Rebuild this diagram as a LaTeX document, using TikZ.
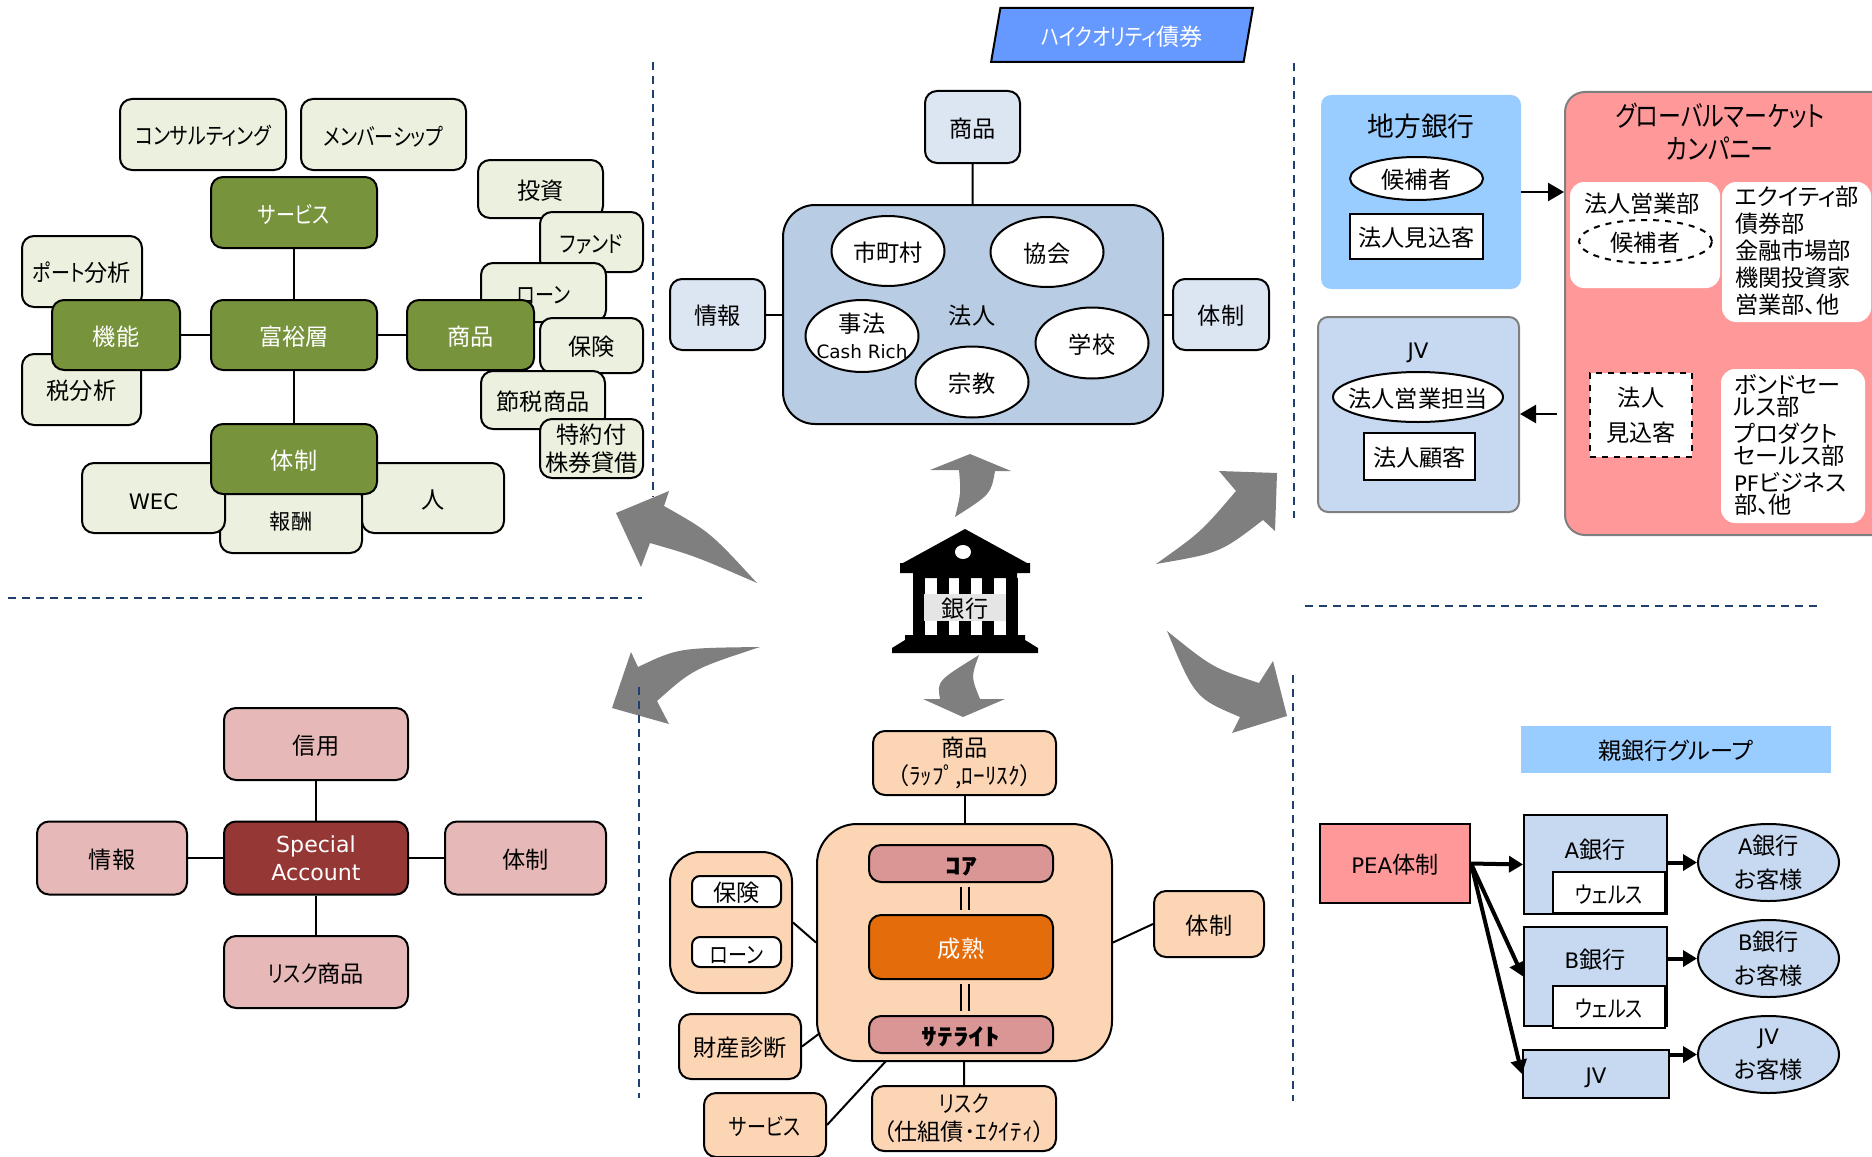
\documentclass[tikz,border=0pt]{standalone}
\usepackage{fontspec}
\setmainfont[RawFeature=+palt]{Noto Sans CJK JP}
\newfontfamily\lat[Scale=0.92]{DejaVu Sans}
\newfontfamily\kana[RawFeature=+palt,FakeStretch=0.82]{Noto Sans CJK JP}
\newfontfamily\heavy[FakeStretch=1.35]{Noto Sans CJK JP}
\usetikzlibrary{shapes.geometric,arrows.meta}
\definecolor{leaf}{HTML}{EBF1DE}
\definecolor{moss}{HTML}{77933C}
\definecolor{corpblue}{HTML}{B8CCE4}
\definecolor{paleblue}{HTML}{DCE6F2}
\definecolor{peach}{HTML}{FCD5B5}
\definecolor{rose}{HTML}{E6B9B8}
\definecolor{wine}{HTML}{953735}
\definecolor{dustyred}{HTML}{D99694}
\definecolor{pumpkin}{HTML}{E46C0A}
\definecolor{skyblue}{HTML}{99CCFF}
\definecolor{softblue}{HTML}{C6D9F1}
\definecolor{salmon}{HTML}{FF9999}
\definecolor{bondblue}{HTML}{6699FF}
\definecolor{arrowgray}{HTML}{7F7F7F}
\definecolor{navy}{HTML}{1F3F6F}
\newcommand{\basefont}{\fontsize{11.6}{14}\selectfont}
\begin{document}
\begin{tikzpicture}[x=.5pt,y=-.5pt,
    wh/.style 2 args={minimum width=#1*.5pt,minimum height=#2*.5pt},
    main node/.style={draw,rounded corners=6pt,line width=1pt,inner sep=0pt,align=center},
    leaf node/.style={main node,fill=leaf},
    moss node/.style={main node,fill=moss,text=white},
    pale node/.style={main node,fill=paleblue},
    peach node/.style={main node,fill=peach},
    rose node/.style={main node,fill=rose},
    oval node/.style={ellipse,draw,line width=1pt,fill=white,inner sep=-12pt,align=center},
    plain box/.style={rectangle,draw,line width=1pt,inner sep=0pt,align=center},
    white panel/.style={rounded corners=7pt,fill=white,inner sep=0pt,align=center},
    list panel/.style={white panel,align=left,inner xsep=6.5pt,execute at end node={\rule[-4.4pt]{0pt}{1pt}}},
    link/.style={line width=1pt},
    divider/.style={draw=navy,line width=1pt,dash pattern=on 4pt off 3pt},
    big arrow/.style={fill=arrowgray},
    thin arrow/.style={line width=1.2pt,-{Triangle[length=8pt,width=9pt]}},
    thick arrow/.style={line width=2pt,-{Triangle[length=7pt,width=8pt]}}]
    \tikzstyle{every node}=[font=\basefont,execute at begin node={\rule{0pt}{11.4pt}}]

    \useasboundingbox (0,0) rectangle (1872,1156);
    \clip (0,0) rectangle (1872,1156);

    \draw[divider] (653,62) -- (653,497);
    \draw[divider] (8,598) -- (642,598);
    \draw[divider] (1294,63) -- (1294,518);
    \draw[divider] (1305,606) -- (1817,606);
    \draw[divider] (1293,675) -- (1293,1101);

    \fill[big arrow] (669,491) -- (664,506) .. controls (710,532) .. (757,583) .. controls (695,556) .. (650,543) -- (641,567) -- (616,513) -- cycle;
    \fill[big arrow] (760,647) .. controls (678,648) .. (638,667) -- (631,652) -- (612,708) -- (669,724) -- (657,701) .. controls (693,669) .. cycle;
    \fill[big arrow] (970,454) -- (1011,471) -- (995,471) .. controls (991,494) .. (955,517) .. controls (961,493) .. (959,470) -- (930,470) -- cycle;
    \fill[big arrow] (1277,473) -- (1275,531) -- (1263,520) .. controls (1220,553) .. (1156,564) .. controls (1201,532) .. (1236,491) -- (1219,471) -- cycle;
    \fill[big arrow] (1167,631) .. controls (1213,668) .. (1259,683) -- (1273,661) -- (1287,716) -- (1232,733) -- (1240,717) .. controls (1195,698) .. cycle;
    \fill[big arrow] (979,655) .. controls (937,681) .. (940,699) -- (923,699) -- (963,717) -- (1005,699) -- (980,699) .. controls (971,677) .. cycle;

    \draw[divider] (639,687) -- (639,1098);

    \node[leaf node,wh={166}{71}] (consult) at (203,134.5) {\kana コンサルティング};
    \node[leaf node,wh={165}{71}] (member) at (383.5,134.5) {\kana メンバーシップ};
    \node[leaf node,wh={120}{71}] (port) at (82,271.5) {{\kana ポート}分析};
    \node[leaf node,wh={119}{71}] (tax) at (81.5,389.5) {税分析};
    \node[leaf node,wh={125}{58}] (invest) at (540.5,189) {投資};
    \node[leaf node,wh={103}{60}] (fund) at (591.5,242) {\kana ファンド};
    \node[leaf node,wh={125}{59}] (loan) at (543.5,292.5) {\kana ローン};
    \node[leaf node,wh={103}{55}] (insure) at (591.5,345.5) {保険};
    \node[leaf node,wh={124}{58}] (saving) at (543,400) {節税商品};
    \node[leaf node,wh={103}{59}] (lending) at (591.5,448.5) {特約付\\株券貸借};
    \node[leaf node,wh={142}{68},font=\fontsize{10.6}{14}\selectfont] (pay) at (291,519) {報酬};
    \node[leaf node,wh={143}{70}] (wec) at (153.5,498) {\lat WEC};
    \node[leaf node,wh={142}{70}] (person) at (433,498) {人};
    \node[moss node,wh={166}{71}] (service) at (294,212.5) {\kana サービス};
    \node[moss node,wh={166}{70}] (wealth) at (294,335) {富裕層};
    \node[moss node,wh={128}{70}] (function) at (116,335) {機能};
    \node[moss node,wh={127}{70}] (product) at (470.5,335) {商品};
    \node[moss node,wh={166}{70}] (system) at (294,459) {体制};

    \path[link] (wealth) edge (service)
                (wealth) edge (function)
                (wealth) edge (product)
                (wealth) edge (system);

    \node[trapezium,trapezium left angle=76,trapezium right angle=104,trapezium stretches=true,draw,line width=1pt,fill=bondblue,text=white,inner sep=0pt,wh={264}{54}] (bond) at (1122,35) {{\kana ハイクオリティ}債券};
    \node[main node,fill=corpblue,rounded corners=16pt,wh={380}{219}] (corp) at (973,314.5) {};
    \node (corplabel) at (972,314) {法人};
    \node[oval node,wh={113}{70}] (city) at (888,251) {市町村};
    \node[oval node,wh={113}{70}] (assoc) at (1047,252) {協会};
    \node[oval node,wh={113}{72}] (firm) at (862,336) {事法\\[-1pt]{\lat\fontsize{10}{13}\selectfont Cash Rich}};
    \node[oval node,wh={113}{71}] (school) at (1092,343) {学校};
    \node[oval node,wh={113}{71}] (religion) at (972,382) {宗教};
    \node[pale node,wh={95}{72}] (corpproduct) at (972.5,127) {商品};
    \node[pale node,wh={95}{71}] (corpinfo) at (717.5,314.5) {情報};
    \node[pale node,wh={96}{71}] (corpsystem) at (1221,314.5) {体制};

    \path[link] (corpproduct) edge (corp)
                (corpinfo) edge (corp)
                (corpsystem) edge (corp);

    \fill (965,529) -- (1027,563) -- (1030,563) -- (1030,573) -- (1017,573) -- (1017,578) -- (913,578) -- (913,573) -- (900,573) -- (900,563) -- (903,563) -- cycle;
    \fill[white] (963,552) ellipse [x radius=8,y radius=7];
    \foreach \colx in {913,937,959,982,1006}
      \fill (\colx,578) rectangle ++(11.5,58);
    \fill (905,635) -- (1025,635) -- (1025,640) -- (1038,648) -- (1038,653) -- (892,653) -- (892,648) -- (905,640) -- cycle;
    \node[fill=black!10,inner sep=0pt,wh={82}{27}] (bank) at (965,607) {銀行};

    \node[fill=skyblue,rounded corners=5pt,wh={200}{194}] (local) at (1421,192) {};
    \node[font=\fontsize{13.4}{16}\selectfont] (localname) at (1421,126) {地方銀行};
    \node[oval node,wh={133}{43}] (localcand) at (1416.5,178.5) {候補者};
    \node[plain box,fill=white,wh={133}{45}] (localpros) at (1416.5,236.5) {法人見込客};

    \node[draw=arrowgray,line width=1pt,fill=softblue,rounded corners=5pt,wh={201}{195}] (jvpanel) at (1418.5,414.5) {};
    \node (jvname) at (1418,349) {\lat JV};
    \node[oval node,wh={170}{50}] (jvsales) at (1418,397) {法人営業担当};
    \node[plain box,fill=white,wh={111}{47}] (jvclient) at (1419.5,456.5) {法人顧客};

    \node[draw=arrowgray,line width=1pt,fill=salmon,rounded corners=10pt,wh={340}{443}] (global) at (1735,313.5) {};
    \node[align=center,font=\kana\fontsize{14}{16.5}\selectfont] (globalname) at (1720,132) {グローバルマーケット\\カンパニー};
    \node[white panel,wh={150}{106}] (sales) at (1645,235) {};
    \node (salesname) at (1642,202) {法人営業部};
    \node[oval node,dashed,wh={133}{43}] (salescand) at (1645.5,241.5) {候補者};
    \node[list panel,text width=61.5pt,wh={149}{140},font=\fontsize{11.6}{13.5}\selectfont] (equity) at (1796.5,252) {エクイティ部\\債券部\\金融市場部\\機関投資家\\営業部、他};
    \node[plain box,dashed,fill=white,wh={102}{84},font=\fontsize{11.6}{17.5}\selectfont] (globalpros) at (1641,415) {法人\\見込客};
    \node[list panel,text width=59pt,wh={144}{154},font=\fontsize{11.6}{11}\selectfont] (bondsales) at (1793,446) {ボンドセー\\ルス部\\[2.5pt]プロダクト\\セールス部\\[2.5pt]{\lat PF}ビジネス\\部、他};

    \draw[thin arrow] (local.east |- 0,192) -- (global.west |- 0,192);
    \coordinate (backstart) at (1557,414);
    \draw[thin arrow] (backstart) -- (jvpanel.east |- backstart);

    \node[fill=skyblue,inner sep=0pt,wh={310}{47}] (group) at (1676,749.5) {親銀行グループ};
    \node[plain box,fill=salmon,wh={150}{79}] (pea) at (1395,863.5) {{\lat PEA}体制};
    \node[plain box,fill=softblue,wh={143}{99}] (abank) at (1595.5,864.5) {};
    \node (abankname) at (1595,848) {{\lat A}銀行};
    \node[plain box,fill=white,wh={112}{41}] (awealth) at (1609,892.5) {\kana ウェルス};
    \node[plain box,fill=softblue,wh={143}{99}] (bbank) at (1595.5,976.5) {};
    \node (bbankname) at (1595,958) {{\lat B}銀行};
    \node[plain box,fill=white,wh={112}{42}] (bwealth) at (1609,1007) {\kana ウェルス};
    \node[plain box,fill=softblue,wh={146}{48}] (jvbank) at (1596,1074) {\lat JV};
    \node[oval node,fill=softblue,wh={141}{77},font=\fontsize{11.6}{17}\selectfont] (aclient) at (1768.5,862.5) {{\lat A}銀行\\お客様};
    \node[oval node,fill=softblue,wh={141}{77},font=\fontsize{11.6}{17}\selectfont] (bclient) at (1768.5,958.5) {{\lat B}銀行\\お客様};
    \node[oval node,fill=softblue,wh={141}{77},font=\fontsize{11.6}{17}\selectfont] (jcclient) at (1768.5,1054.5) {{\lat JV}\\お客様};

    \draw[thick arrow] (pea.east) -- (abank.west);
    \draw[thick arrow] (pea.east) -- (bbank.west);
    \draw[thick arrow] (pea.east) -- (jvbank.west);
    \draw[thick arrow] (abank.east |- aclient.west) -- (aclient.west);
    \draw[thick arrow] (bbank.east |- bclient.west) -- (bclient.west);
    \draw[thick arrow] (jvbank.east |- jcclient.west) -- (jcclient.west);

    \node[peach node,rounded corners=20pt,wh={295}{237}] (mature) at (964.5,942.5) {};
    \node[main node,fill=dustyred,wh={184}{37},font=\basefont\heavy\bfseries] (core) at (961,863.5) {ｺｱ};
    \node[main node,fill=pumpkin,text=white,wh={184}{64}] (ripe) at (961,947) {成熟};
    \node[main node,fill=dustyred,wh={184}{37},font=\basefont\heavy\bfseries] (sat) at (961,1034.5) {ｻﾃﾗｲﾄ};
    \node[peach node,wh={183}{64}] (wrap) at (964.5,763) {商品\\（ﾗｯﾌﾟ,ﾛｰﾘｽｸ）};
    \node[peach node,rounded corners=15pt,wh={122}{141}] (lend) at (731,922.5) {};
    \node[main node,fill=white,rounded corners=4pt,wh={89}{31}] (lendins) at (736.5,891.5) {保険};
    \node[main node,fill=white,rounded corners=4pt,wh={89}{30}] (lendloan) at (736.5,952) {\kana ローン};
    \node[peach node,wh={122}{65}] (diag) at (740,1046.5) {財産診断};
    \node[peach node,wh={122}{64}] (support) at (765,1125) {\kana サービス};
    \node[peach node,wh={184}{65}] (risk) at (964,1118.5) {{\kana リスク}\\（仕組債･ｴｸｲﾃｨ）};
    \node[peach node,wh={110}{66}] (matsys) at (1209,924) {体制};

    \coordinate (diagend) at (820,1033);
    \coordinate (supportend) at (886,1061);
    \path[link] (wrap) edge (mature)
                (lend.east) edge (mature.west)
                (diag.east) edge (diagend)
                (support.east) edge (supportend)
                (risk) edge (mature)
                (matsys.west) edge (mature.east);
    \draw[double=peach,line width=.7pt,double distance=3.4pt] ([xshift=2pt,yshift=-2pt]core.south) -- ([xshift=2pt,yshift=2pt]ripe.north);
    \draw[double=peach,line width=.7pt,double distance=3.4pt] ([xshift=2pt,yshift=-2pt]ripe.south) -- ([xshift=2pt,yshift=2pt]sat.north);

    \node[rose node,wh={184}{72}] (credit) at (316,744) {信用};
    \node[main node,fill=wine,text=white,wh={184}{73},font=\lat\fontsize{12}{14}\selectfont] (account) at (316,858) {Special\\Account};
    \node[rose node,wh={150}{73}] (info) at (112,858) {情報};
    \node[rose node,wh={161}{73}] (acsys) at (525.5,858) {体制};
    \node[rose node,wh={184}{72}] (riskprod) at (316,972) {{\kana リスク}商品};

    \path[link] (account) edge (credit)
                (account) edge (info)
                (account) edge (acsys)
                (account) edge (riskprod);

\end{tikzpicture}
\end{document}
